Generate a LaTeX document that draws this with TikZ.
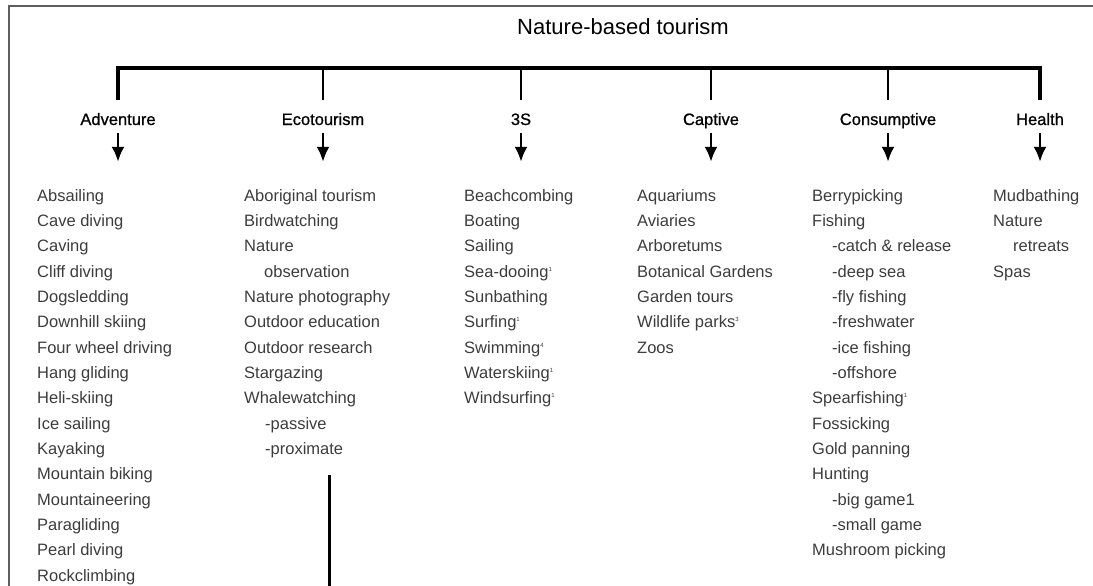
\documentclass[tikz,border=0pt]{standalone}
\usepackage{fontspec}
\setmainfont{Liberation Sans}
\newfontfamily\headfont[FakeBold=0.8]{Liberation Sans}
\usetikzlibrary{arrows.meta}
\definecolor{itemgray}{HTML}{3C3C3C}
\definecolor{framegray}{HTML}{5E5E5E}
\newcommand\fnsup[1]{\raisebox{6pt}{\fontsize{6}{6}\selectfont #1}}
\begin{document}
\begin{tikzpicture}[x=1pt,y=-1pt,
  item/.style={anchor=base west, inner sep=0pt, font=\fontsize{16.5}{18}\selectfont, text=itemgray},
  head/.style={anchor=base, inner sep=0pt, text height=12pt, text depth=3pt, font=\headfont\fontsize{16.5}{18}\selectfont},
  barline/.style={line width=3.2pt, line join=miter},
  dropline/.style={line width=2.7pt},
  arr/.style={line width=2.6pt, -{Latex[length=15pt,width=13pt]}},
  ]
\useasboundingbox (0,0) rectangle (1093,586);
% frame
\draw[framegray, line width=2pt] (9,592) -- (9,6) -- (1099,6);
% title
\node[anchor=base, inner sep=0pt, font=\fontsize{22}{24}\selectfont] (title) at (623,35) {Nature-based tourism};
% headers
\node[head] (hAdv) at (118,125) {Adventure};
\node[head] (hEco) at (323,125) {Ecotourism};
\node[head] (hSSS) at (521,125) {3S};
\node[head] (hCap) at (711,125) {Captive};
\node[head] (hCon) at (888,125) {Consumptive};
\node[head] (hHea) at (1040,125) {Health};
% bar
\coordinate (barL) at (117,68);
\draw[barline, shorten <=13pt, shorten >=13pt] (hAdv.north) -- (hAdv.north |- barL) -- (hHea.north |- barL) -- (hHea.north);
\foreach \h in {hEco,hSSS,hCap,hCon}
  \draw[dropline, shorten >=13pt] (\h.north |- barL) -- (\h.north);
% lists
\foreach \dx/\t [count=\i from 0] in {0/Absailing,0/Cave diving,0/Caving,0/Cliff diving,0/Dogsledding,0/Downhill skiing,0/Four wheel driving,0/Hang gliding,0/Heli-skiing,0/Ice sailing,0/Kayaking,0/Mountain biking,0/Mountaineering,0/Paragliding,0/Pearl diving,0/Rockclimbing}
  \node[item] (adv\i) at ({37+\dx},{201+25.35*\i}) {\t};
\foreach \dx/\t [count=\i from 0] in {0/Aboriginal tourism,0/Birdwatching,0/Nature,20/observation,0/Nature photography,0/Outdoor education,0/Outdoor research,0/Stargazing,0/Whalewatching,21/-passive,21/-proximate}
  \node[item] (eco\i) at ({244+\dx},{201+25.35*\i}) {\t};
\foreach \dx/\t [count=\i from 0] in {0/Beachcombing,0/Boating,0/Sailing,0/Sea-dooing\fnsup{1},0/Sunbathing,0/Surfing\fnsup{1},0/Swimming\fnsup{4},0/Waterskiing\fnsup{1},0/Windsurfing\fnsup{1}}
  \node[item] (sss\i) at ({464+\dx},{201+25.35*\i}) {\t};
\foreach \dx/\t [count=\i from 0] in {0/Aquariums,0/Aviaries,0/Arboretums,0/Botanical Gardens,0/Garden tours,0/Wildlife parks\fnsup{3},0/Zoos}
  \node[item] (cap\i) at ({637+\dx},{201+25.35*\i}) {\t};
\foreach \dx/\t [count=\i from 0] in {0/Berrypicking,0/Fishing,20/-catch \& release,20/-deep sea,20/-fly fishing,20/-freshwater,20/-ice fishing,20/-offshore,0/Spearfishing\fnsup{1},0/Fossicking,0/Gold panning,0/Hunting,20/-big game1,20/-small game,0/Mushroom picking}
  \node[item] (con\i) at ({812+\dx},{201+25.35*\i}) {\t};
\foreach \dx/\t [count=\i from 0] in {0/Mudbathing,0/Nature,20/retreats,0/Spas}
  \node[item] (hea\i) at ({993+\dx},{201+25.35*\i}) {\t};
% arrows
\draw[arr, shorten <=5pt, shorten >=27pt] (hAdv.south) -- (hAdv.south |- adv0.north);
\draw[arr, shorten <=5pt, shorten >=27pt] (hEco.south) -- (hEco.south |- eco0.north);
\draw[arr, shorten <=5pt, shorten >=27pt] (hSSS.south) -- (hSSS.south |- sss0.north);
\draw[arr, shorten <=5pt, shorten >=27pt] (hCap.south) -- (hCap.south |- cap0.north);
\draw[arr, shorten <=5pt, shorten >=27pt] (hCon.south) -- (hCon.south |- con0.north);
\draw[arr, shorten <=5pt, shorten >=27pt] (hHea.south) -- (hHea.south |- hea0.north);
% line below Ecotourism list
\coordinate (ecoTop) at (329,475);
\coordinate (ecoBot) at (329,592);
\draw[line width=3pt] (ecoTop) -- (ecoBot);
\end{tikzpicture}
\end{document}
